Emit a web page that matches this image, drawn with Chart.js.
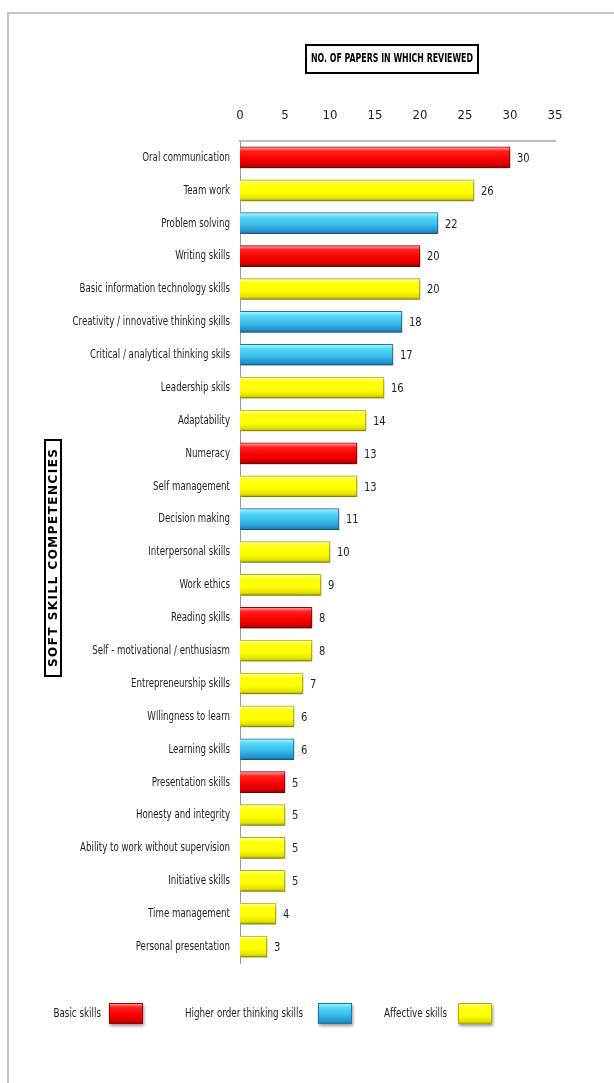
<!DOCTYPE html>
<html><head><meta charset="utf-8">
<script src="https://cdn.jsdelivr.net/npm/chart.js@4"></script>
<style>html,body{margin:0;padding:0;background:#fff;}#wrap{position:relative;width:614px;height:1083px;}</style>
</head><body><div id="wrap"><canvas id="c" width="614" height="1083"></canvas></div>
<script>
const categories = ['Oral communication','Team work','Problem solving','Writing skills','Basic information technology skills','Creativity / innovative thinking skills','Critical / analytical thinking skils','Leadership skils','Adaptability','Numeracy','Self management','Decision making','Interpersonal skills','Work ethics','Reading skills','Self - motivational / enthusiasm','Entrepreneurship skills','Wllingness to learn','Learning skills','Presentation skills','Honesty and integrity','Ability to work without supervision','Initiative skills','Time management','Personal presentation'];
const values = [30,26,22,20,20,18,17,16,14,13,13,11,10,9,8,8,7,6,6,5,5,5,5,4,3];
const groups = ['B','A','H','B','A','H','H','A','A','B','A','H','A','A','B','A','A','A','H','B','A','A','A','A','A'];
const groupKeys = ['B','H','A'];
const groupNames = ['Basic skills','Higher order thinking skills','Affective skills'];
const xTicks = [0,5,10,15,20,25,30,35];
const chartTitle = 'NO. OF PAPERS IN WHICH REVIEWED';
const axisTitle = 'SOFT SKILL COMPETENCIES';

const FONT = '"DejaVu Sans Condensed","DejaVu Sans",sans-serif';
const TXT = '#1e1e1e';
const stops = {
  B: [[0,'#ffb0b0'],[0.2,'#ff2020'],[0.55,'#ff0000'],[0.85,'#d40000'],[1,'#960000']],
  H: [[0,'#b8f6ff'],[0.22,'#55d8f8'],[0.6,'#38b8e8'],[0.88,'#2391cc'],[1,'#176f9e']],
  A: [[0,'#ffffb8'],[0.2,'#ffff10'],[0.6,'#ffff00'],[0.88,'#e2e200'],[1,'#a4a400']]
};
const borders = {B:'#a00000',H:'#1b76a8',A:'#b0b000'};
function grad(ctx, key, y0, y1){
  const g = ctx.createLinearGradient(0,y0,0,y1);
  stops[key].forEach(s=>g.addColorStop(s[0],s[1]));
  return g;
}
function condText(ctx, text, x, y, sx, align){
  ctx.save(); ctx.translate(x,y); ctx.scale(sx,1); ctx.textAlign=align; ctx.fillText(text,0,0); ctx.restore();
}
const BAR_H = 21;
const datasets = groupKeys.map((k,i)=>({
  label: groupNames[i],
  key: k,
  data: values.map((v,j)=>groups[j]===k ? v : null),
  backgroundColor: (c)=>{
    const ys = c.chart.scales && c.chart.scales.y;
    if(!ys || c.dataIndex===undefined) return stops[k][2][1];
    const yc = ys.getPixelForValue(c.dataIndex);
    if(!isFinite(yc)) return stops[k][2][1];
    return grad(c.chart.ctx,k,yc-BAR_H/2,yc+BAR_H/2);
  },
  borderColor: borders[k],
  borderWidth: 1,
  barThickness: BAR_H
}));

const decor = {
  id:'decor',
  afterLayout(chart){
    const s = chart.scales.y;
    if(s && !s._cond){
      const orig = s.drawLabels.bind(s);
      s.drawLabels = function(area){
        const ctx=this.ctx, ax=this.right-10;
        ctx.save(); ctx.translate(ax,0); ctx.scale(0.74,1); ctx.translate(-ax,0);
        orig(area);
        ctx.restore();
      };
      s._cond = true;
    }
  },
  beforeDraw(chart){
    const ctx = chart.ctx;
    ctx.save();
    ctx.fillStyle='#fff';ctx.fillRect(0,0,chart.width,chart.height);
    ctx.strokeStyle='#c4c4c4';ctx.lineWidth=2;
    ctx.beginPath();ctx.moveTo(8,chart.height);ctx.lineTo(8,13);ctx.lineTo(chart.width,13);ctx.stroke();
    ctx.restore();
  },
  beforeDatasetsDraw(chart){
    const ctx=chart.ctx;ctx.save();
    ctx.shadowColor='rgba(0,0,0,0.4)';ctx.shadowBlur=3;ctx.shadowOffsetX=1;ctx.shadowOffsetY=2;
  },
  afterDatasetsDraw(chart){
    const ctx=chart.ctx;ctx.restore();
    ctx.save();
    ctx.font='13px '+FONT;ctx.fillStyle=TXT;ctx.textBaseline='middle';
    chart.data.datasets.forEach((ds,di)=>{
      const meta=chart.getDatasetMeta(di);
      meta.data.forEach((el,i)=>{
        if(ds.data[i]==null) return;
        condText(ctx, String(ds.data[i]), el.x+7, el.y+1, 0.85, 'left');
      });
    });
    ctx.restore();
  },
  afterDraw(chart){
    const ctx=chart.ctx;ctx.save();
    ctx.textBaseline='middle';ctx.fillStyle='#000';
    const cx=392, cy=59;
    ctx.strokeStyle='#000';ctx.lineWidth=2;
    ctx.strokeRect(cx-86,45,172,28);
    ctx.font='bold 13px '+FONT;
    const tw=ctx.measureText(chartTitle).width;
    condText(ctx, chartTitle, cx, cy, 162/tw, 'center');
    ctx.save();
    ctx.translate(53,558);ctx.rotate(-Math.PI/2);
    ctx.font='bold 12px "DejaVu Sans",sans-serif';
    const w0=ctx.measureText(axisTitle).width;
    const ls=Math.max(0,(218-w0)/(axisTitle.length-1));
    ctx.letterSpacing=ls+'px';
    ctx.strokeRect(-118,-8,236,16);
    ctx.textAlign='center';
    ctx.fillText(axisTitle,ls/2,1);
    ctx.restore();
    const leg=[{tx:101,bx:109},{tx:303,bx:318},{tx:447,bx:458}];
    chart.data.datasets.forEach((ds,i)=>{
      const L=leg[i];
      ctx.font='13px '+FONT;ctx.textBaseline='middle';ctx.fillStyle=TXT;
      condText(ctx, ds.label, L.tx, 1014, 0.75, 'right');
      ctx.save();
      ctx.shadowColor='rgba(0,0,0,0.4)';ctx.shadowBlur=3;ctx.shadowOffsetX=1;ctx.shadowOffsetY=2;
      ctx.fillStyle=grad(ctx,ds.key,1003,1024);
      ctx.fillRect(L.bx,1003,34,21);
      ctx.restore();
      ctx.strokeStyle=borders[ds.key];ctx.lineWidth=1;ctx.strokeRect(L.bx+0.5,1003.5,33,20);
    });
    ctx.restore();
  }
};

new Chart(document.getElementById('c'),{
  type:'bar',
  data:{labels:categories,datasets},
  options:{
    indexAxis:'y',responsive:false,animation:false,
    layout:{padding:{left:0,right:59,top:0,bottom:120}},
    plugins:{legend:{display:false},tooltip:{enabled:false}},
    scales:{
      x:{position:'top',stacked:true,min:0,max:35,
        afterBuildTicks:(s)=>{s.ticks=xTicks.map(v=>({value:v}));},
        afterFit:(s)=>{s.height=141;},
        grid:{display:false,drawTicks:false},
        border:{display:true,color:'#bdbdbd',width:2},
        ticks:{padding:18,color:TXT,font:{size:13,family:FONT}}},
      y:{stacked:true,
        afterFit:(s)=>{s.width=240;},
        grid:{display:false,drawTicks:false},
        border:{display:true,color:'#9a9a9a',width:1},
        ticks:{padding:10,color:TXT,font:{size:13,family:FONT}}}
    }
  },
  plugins:[decor]
});
</script></body></html>
